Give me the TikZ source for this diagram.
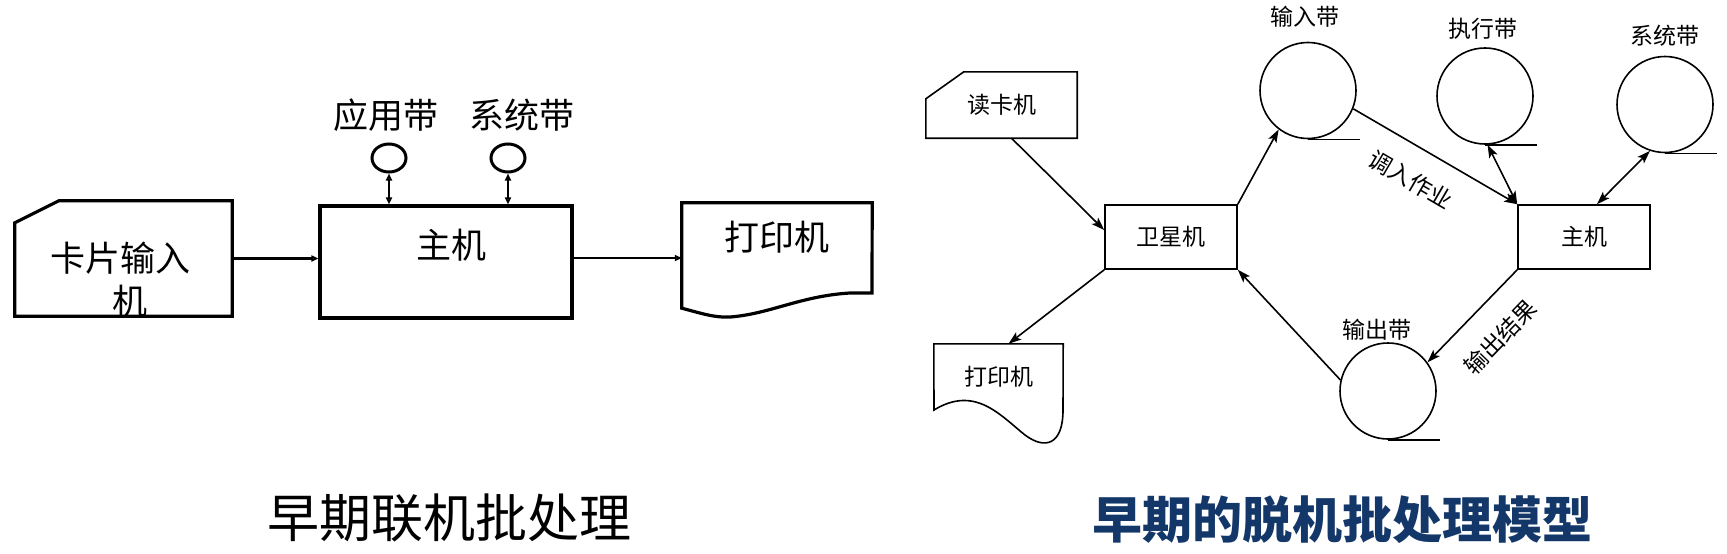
\documentclass[tikz,border=0pt]{standalone}
\usepackage{fontspec}
\newfontfamily\cjk{Noto Sans CJK SC}
\usetikzlibrary{arrows.meta,shapes.geometric}
\definecolor{titleblue}{RGB}{20,55,105}
\begin{document}
\begin{tikzpicture}[x=1pt,y=-1pt,
  big/.style={font=\cjk\fontsize{35}{40}\selectfont, inner sep=0pt},
  small/.style={font=\cjk\fontsize{23}{26}\selectfont, inner sep=0pt},
  lbox/.style={draw, line width=3.2pt},
  ltip/.tip={Triangle[open,length=7pt,width=6pt]},
  ltipf/.tip={Triangle[length=7pt,width=6pt]},
  larr/.style={line width=2.2pt, -ltip},
  lellipse/.style={draw, ellipse, line width=3pt, minimum width=34pt, minimum height=28pt, inner sep=0pt},
  rline/.style={line width=1.6pt},
  rtip/.tip={Stealth[length=13pt,width=9pt,inset=3pt]},
  rarr/.style={rline, -rtip},
  rarrtwo/.style={rline, rtip-rtip},
  tape/.style={draw, circle, rline, minimum size=96pt, inner sep=0pt},
  rbox/.style={draw, rline, minimum width=132pt, minimum height=64pt, small}
]
\useasboundingbox (0,0) rectangle (1727,554);

% ---------- left diagram ----------
\node[inner sep=0pt, minimum width=217pt, minimum height=115pt] (card) at (123.5,258.5) {};
\draw[line width=3.2pt] ([yshift=-22pt]card.north west) -- ([xshift=44pt]card.north west) -- (card.north east) -- (card.south east) -- (card.south west) -- cycle;
\node[big] (cardta) at (120,258) {卡片输入};
\node[big] (cardtb) at (130,301) {机};

\node[lbox, minimum width=252pt, minimum height=112pt, inner sep=0pt] (zj) at (446,262) {};
\node[big] (zjt) at (451,245) {主机};

\node[inner sep=0pt, minimum width=190pt, minimum height=105pt] (pra) at (777,255.5) {};
\draw[line width=3.2pt] (pra.north west) -- (pra.north east) -- (872,293) -- (850,293) .. controls (800,296) and (770,314) .. (730,317) .. controls (715,318) and (700,313) .. (pra.south west) -- cycle;
\node[big] (prat) at (777,237) {打印机};

\draw[larr] (card.east) -- (card.east -| zj.west);
\draw[larr] ([yshift=4pt]zj.east) -- ([yshift=4pt]zj.east -| pra.west);

\node[lellipse] (ca) at (389,158) {};
\node[lellipse] (cb) at (508,158) {};
\draw[line width=2.2pt, ltip-ltip] (ca.south) -- (ca.south |- zj.north);
\draw[line width=2.2pt, ltipf-ltip] (cb.south) -- (cb.south |- zj.north);
\node[big] (la) at (386,115) {应用带};
\node[big] (lb) at (522,115) {系统带};

\node[font=\cjk\fontsize{52}{56}\selectfont, inner sep=0pt] (ta) at (449,518) {早期联机批处理};

% ---------- right diagram ----------
\node[small, minimum width=151pt, minimum height=66pt] (rdk) at (1001.5,105) {读卡机};
\draw[rline] ([yshift=-27pt]rdk.north west) -- ([xshift=38pt]rdk.north west) -- (rdk.north east) -- (rdk.south east) -- (rdk.south west) -- cycle;

\node[rbox] (wx) at (1171,237) {卫星机};
\node[rbox] (zjb) at (1584,237) {主机};

\node[tape] (tin) at (1308,90.5) {};
\draw[rline] (tin.south) -- ++(52,0);
\node[tape] (tex) at (1485,96) {};
\draw[rline] (tex.south) -- ++(52,0);
\node[tape] (tsy) at (1665,104.5) {};
\draw[rline] (tsy.south) -- ++(52,0);
\node[tape] (tout) at (1388,391) {};
\draw[rline] (tout.south) -- ++(52,0);

\node[small] (lin) at (1305,17) {输入带};
\node[small] (lex) at (1483,29) {执行带};
\node[small] (lsy) at (1665,36) {系统带};
\node[small] (lout) at (1377,330) {输出带};

\node[small, minimum width=129pt, minimum height=66pt] (prb) at (998.5,377) {打印机};
\draw[rline] (prb.north west) -- (prb.north east) -- (1063,410) .. controls (1063,445) and (1045,450) .. (1025,435) .. controls (1000,415) and (975,385) .. (934,410) -- cycle;

\draw[rarr] ([xshift=10pt]rdk.south) -- ([yshift=7pt]wx.west);
\draw[rarr] (wx.north east) -- (tin.233);
\draw[rarr] (tin.-22) -- node[small, sloped, pos=0.45, below=21pt] (ldr) {调入作业} (zjb.north west);
\draw[rarrtwo] (tex.-87) -- (zjb.north west);
\draw[rarrtwo] (tsy.252) -- ([xshift=13pt]zjb.north);
\draw[rarr] (zjb.south west) -- node[small, sloped, pos=0.47, below=23pt] (lsc) {输出结果} (tout.36);
\draw[rarr] (tout.167) -- (wx.south east);
\draw[rarr] (wx.south west) -- ([xshift=10pt]prb.north);

\node[font=\cjk\bfseries\fontsize{50}{54}\selectfont, text=titleblue, inner sep=0pt] (tb) at (1342,520) {早期的脱机批处理模型};
\end{tikzpicture}
\end{document}
